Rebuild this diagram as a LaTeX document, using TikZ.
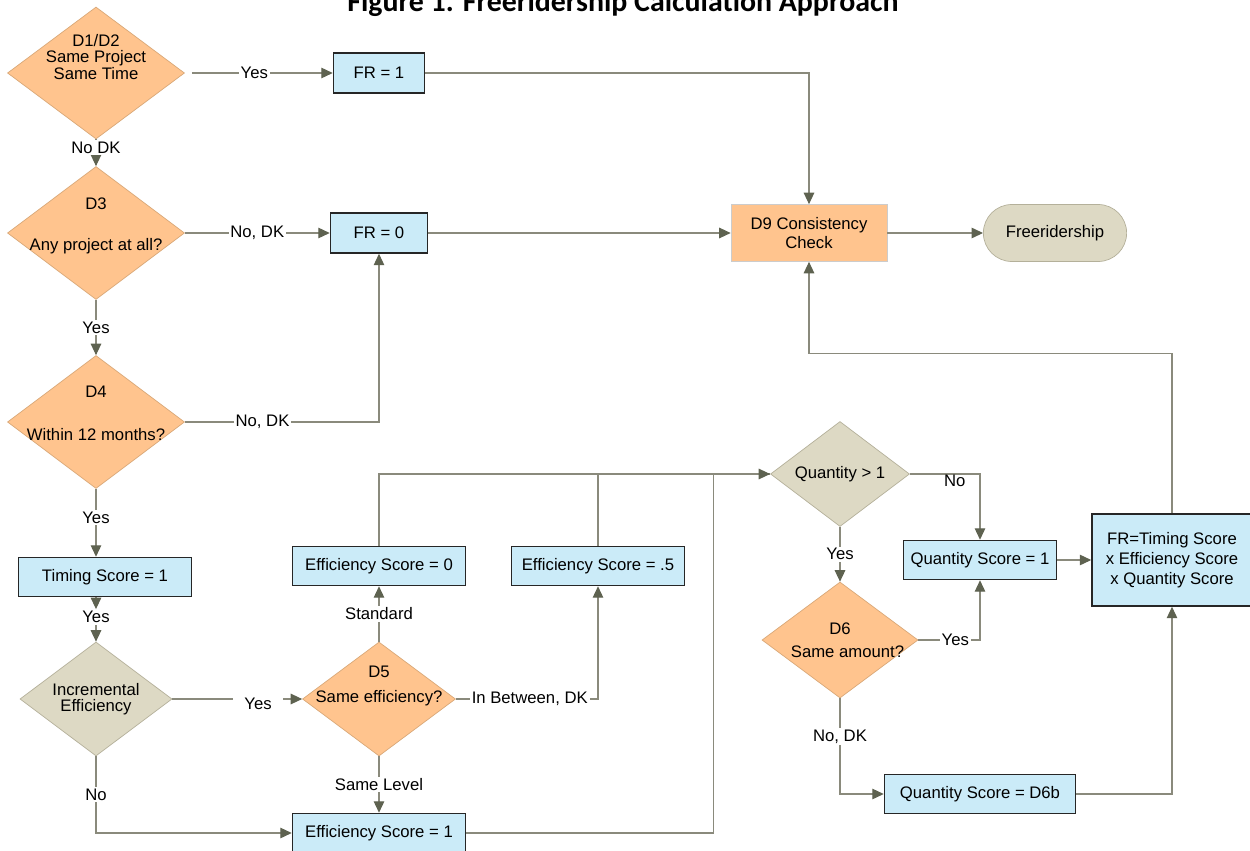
\documentclass[tikz,border=0pt]{standalone}
\usepackage{fontspec}
\setmainfont{Liberation Sans}
\newfontfamily\titlefont{Carlito}
\usetikzlibrary{shapes.geometric,shapes.misc,arrows.meta,positioning}
\definecolor{orng}{HTML}{FFC48E}
\definecolor{orngline}{HTML}{D9A878}
\definecolor{blu}{HTML}{CBEBF8}
\definecolor{beig}{HTML}{DDD9C4}
\definecolor{beigline}{HTML}{B4B09A}
\definecolor{linec}{HTML}{8A8A7C}
\definecolor{tipc}{HTML}{5E6250}
\begin{document}
\begin{tikzpicture}[node distance=3cm,>={Triangle[length=6.5pt,width=6pt,color=tipc]},font=\fontsize{9.5}{11.3}\selectfont]
    \tikzstyle{dia} = [diamond,draw=orngline,fill=orng,inner sep=0pt]
    \tikzstyle{dias} = [diamond,draw=beigline,fill=beig,inner sep=0pt]
    \tikzstyle{box} = [rectangle,draw=black!85,line width=0.9pt,fill=blu,minimum height=0.78cm]
    \tikzstyle{chk} = [rectangle,draw=black!20,fill=orng,minimum width=3.12cm,minimum height=1.14cm,align=center]
    \tikzstyle{term} = [rounded rectangle,draw=beigline,fill=beig,minimum width=3.1cm,minimum height=1.14cm]
    \tikzstyle{txt} = [align=center,inner sep=0pt]
    \tikzstyle{conn} = [draw=linec,line width=0.6pt]
    \tikzstyle{lbl} = [fill=white,inner sep=1pt]
    \useasboundingbox (-1.92,1.46) rectangle (23.08,-15.54);
    \node [anchor=base,font=\titlefont\bfseries\fontsize{17}{20}\selectfont] (title) at (10.54,1.22) {Figure 1. Freeridership Calculation Approach};

    \node [dia,minimum width=3.54cm,minimum height=2.64cm] (d1) {};
    \node [txt] (d1t) at ([yshift=0.32cm]d1.center) {D1/D2\\[-2pt]Same Project\\[-2pt]Same Time};
    \node [box,right of=d1,node distance=5.66cm,minimum width=1.82cm,minimum height=0.8cm] (fr1) {FR = 1};
    \node [dia,below of=d1,node distance=3.2cm,minimum width=3.54cm,minimum height=2.66cm] (d3) {};
    \node [txt] (d3t) at ([yshift=0.15cm]d3.center) {D3\\[12pt]Any project at all?};
    \node [box,right of=d3,node distance=5.66cm,minimum width=1.94cm,minimum height=0.8cm] (fr0) {FR = 0};
    \node [chk,right of=fr0,node distance=8.6cm] (d9) {D9 Consistency\\Check};
    \node [term,right of=d9,node distance=4.92cm] (free) {Freeridership};
    \node [dia,below of=d3,node distance=3.78cm,minimum width=3.54cm,minimum height=2.66cm] (d4) {};
    \node [txt] (d4t) at ([yshift=0.17cm]d4.center) {D4\\[13pt]Within 12 months?};
    \node [box,below of=d4,node distance=3.1cm,xshift=0.18cm,minimum width=3.46cm] (ts) {Timing Score = 1\hspace{0.65cm}};
    \node [dias,below of=d4,node distance=5.54cm,minimum width=3.04cm,minimum height=2.28cm] (inc) {};
    \node [txt] (inct) at (inc.center) {Incremental\\[-2pt]Efficiency};
    \node [dia,right of=inc,node distance=5.66cm,minimum width=3.06cm,minimum height=2.28cm] (d5) {};
    \node [txt] (d5t) at ([yshift=0.26cm]d5.center) {D5\\[3pt]Same efficiency?};
    \node [box,above of=d5,node distance=2.66cm,minimum width=3.46cm] (eff0) {Efficiency Score = 0};
    \node [box,below of=d5,node distance=2.68cm,minimum width=3.46cm] (eff1) {Efficiency Score = 1};
    \node [box,right of=eff0,node distance=4.38cm,minimum width=3.46cm] (effh) {Efficiency Score = .5};
    \node [dias,right of=effh,node distance=4.84cm,yshift=1.84cm,minimum width=2.78cm,minimum height=2.1cm] (qty) {};
    \node [txt] (qtyt) at (qty.center) {Quantity > 1};
    \node [dia,below of=qty,node distance=3.32cm,minimum width=3.12cm,minimum height=2.32cm] (d6) {};
    \node [txt] (d6t) at (d6.center) {D6\\[2pt]\hspace{0.3cm}Same amount?};
    \node [box,right of=qty,node distance=2.8cm,yshift=-1.72cm,minimum width=3.06cm] (qs1) {Quantity Score = 1};
    \node [box,right of=qs1,node distance=3.84cm,minimum width=3.2cm,minimum height=1.84cm,align=center] (frm) {FR=Timing Score\\x Efficiency Score\\x Quantity Score};
    \node [box,below of=qs1,node distance=4.68cm,minimum width=3.82cm] (qsb) {Quantity Score = D6b\hspace{0.2cm}};
    \node [lbl,above of=inc,node distance=1.64cm] (y5) {Yes};

    \draw [conn,->,shorten <=0.14cm] (d1) -- node [lbl,pos=0.47] (y1) {Yes} (fr1);
    \draw [conn,->] (d1) -- node [lbl,pos=0.3] (n1) {No DK} (d3);
    \draw [conn,->] (d3) -- node [lbl,pos=0.5] (n3) {No, DK} (fr0);
    \draw [conn,->] (d3) -- node [lbl,pos=0.5] (y3) {Yes} (d4);
    \draw [conn,->] (d4) -| node [lbl,pos=0.2] (n4) {No, DK} (fr0);
    \draw [conn,->] (d4) -- node [lbl,pos=0.42] (y4) {Yes} (d4 |- ts.north);
    \draw [conn,->] (ts.south -| y5) -- (y5);
    \draw [conn,->] (y5) -- (inc);
    \draw [conn,->] (inc) -- node [lbl,pos=0.66,yshift=-0.1cm,minimum width=1cm] (y6) {Yes} (d5);
    \draw [conn,->] (inc) |- node [lbl,pos=0.25] (n6) {No} (eff1);
    \draw [conn,->] (d5) -- node [lbl,pos=0.5] (s5) {Standard} (eff0);
    \draw [conn,->] (d5) -- node [lbl,pos=0.5] (l5) {Same Level} (eff1);
    \draw [conn,->] (d5) -| node [lbl,pos=0.26] (b5) {In Between, DK} (effh);
    \draw [conn] (eff0) |- (qty);
    \draw [conn] (effh) -- (effh |- qty);
    \draw [conn,->] (eff1.east) -- ++(4.94cm,0) |- (qty);
    \draw [conn,->] (qty) -| node [below,pos=0.32,inner sep=0.5pt] (n7) {No} (qs1);
    \draw [conn,->] (qty) -- node [lbl,pos=0.5] (y7) {Yes} (d6);
    \draw [conn,->] (d6) -| node [lbl,pos=0.3] (y8) {Yes} (qs1);
    \draw [conn,->] (d6) |- node [lbl,pos=0.2] (n8) {No, DK} (qsb);
    \draw [conn,->] (qs1) -- (frm);
    \draw [conn,->] (qsb) -| (frm);
    \draw [conn,->] (frm.north) -- ++(0,3.2cm) -| (d9);
    \draw [conn,->] (fr1) -| (d9);
    \draw [conn,->] (fr0) -- (d9);
    \draw [conn,->] (d9) -- (free);
  \end{tikzpicture}
\end{document}
